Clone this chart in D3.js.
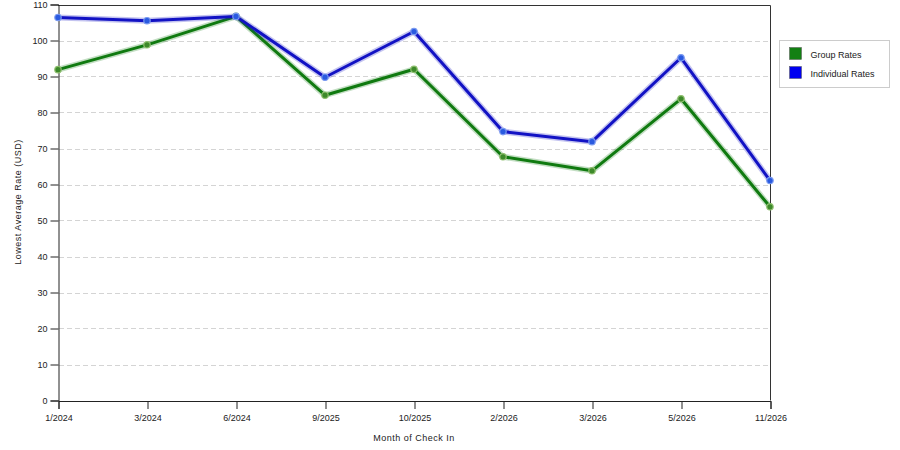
<!DOCTYPE html>
<html>
<head>
<meta charset="utf-8">
<script src="https://cdn.jsdelivr.net/npm/d3@7"></script>
<style>
body { margin: 0; background: #fff; }
text { font-family: "Liberation Sans", Arial, sans-serif; font-size: 9px; fill: #222; }
</style>
</head>
<body>
<script>
var months = ["1/2024", "3/2024", "6/2024", "9/2025", "10/2025", "2/2026", "3/2026", "5/2026", "11/2026"];
var groupRates = [91.9, 98.8, 106.7, 84.8, 92.0, 67.7, 63.8, 83.8, 53.8];
var individualRates = [106.4, 105.5, 106.7, 89.8, 102.5, 74.7, 71.9, 95.2, 61.1];
var yTicks = [0, 10, 20, 30, 40, 50, 60, 70, 80, 90, 100, 110];
var seriesNames = ["Group Rates", "Individual Rates"];
var seriesColors = ["#107a10", "#1212c4"];
var legendColors = ["#138013", "#0000f0"];

var w = 900, h = 450;
var plotLeft = 58, plotRight = 770, plotTop = 4.5, plotBottom = 400.5;

var svg = d3.select("body").append("svg")
    .attr("width", w)
    .attr("height", h);

var x = d3.scalePoint()
    .domain(months)
    .range([plotLeft, plotRight]);

var y = d3.scaleLinear()
    .domain([0, 110])
    .range([plotBottom, plotTop]);

// dashed grid
svg.append("g")
    .selectAll("line")
    .data(yTicks.filter(function(d) { return d > 0 && d < 110; }))
    .enter()
    .append("line")
    .attr("x1", plotLeft + 1)
    .attr("x2", plotRight - 1)
    .attr("y1", function(d) { return Math.round(y(d)) + 0.5; })
    .attr("y2", function(d) { return Math.round(y(d)) + 0.5; })
    .attr("stroke", "#d4d4d4")
    .attr("stroke-dasharray", "5,3");

// frame top and right
svg.append("path")
    .attr("d", "M" + plotLeft + "," + (Math.round(plotTop) + 0.5) + "H" + (plotRight + 0.5) + "V" + plotBottom)
    .attr("fill", "none")
    .attr("stroke", "#333");

svg.append("g")
    .attr("transform", "translate(0.5,0)")
    .call(d3.axisLeft(y).tickValues(yTicks).tickSize(8).tickPadding(3).tickFormat(d3.format("d")))
    .attr("transform", "translate(" + (plotLeft + 0.5) + ",0)");

svg.append("g")
    .attr("transform", "translate(0.5," + Math.round(plotBottom) + ")")
    .call(d3.axisBottom(x).tickSize(8).tickPadding(6));

svg.selectAll(".domain").attr("stroke", "#222");
svg.selectAll(".tick line").attr("stroke", "#222");
svg.selectAll(".tick text").style("font-family", "Liberation Sans, Arial, sans-serif").style("font-size", "9px").attr("fill", "#222");

svg.append("text")
    .attr("x", 414)
    .attr("y", 441)
    .attr("text-anchor", "middle")
    .style("letter-spacing", "0.5px")
    .text("Month of Check In");

svg.append("text")
    .attr("transform", "translate(21,202) rotate(-90)")
    .attr("text-anchor", "middle")
    .style("letter-spacing", "0.5px")
    .text("Lowest Average Rate (USD)");

var line = d3.line()
    .x(function(d, i) { return x(months[i]); })
    .y(function(d) { return y(d); });

[groupRates, individualRates].forEach(function(vals, k) {
    svg.append("path")
        .datum(vals)
        .attr("d", line)
        .attr("fill", "none")
        .attr("stroke", seriesColors[k])
        .attr("stroke-opacity", 0.25)
        .attr("stroke-width", 6)
        .attr("stroke-linejoin", "round");
    svg.append("path")
        .datum(vals)
        .attr("d", line)
        .attr("fill", "none")
        .attr("stroke", seriesColors[k])
        .attr("stroke-width", 3)
        .attr("stroke-linejoin", "round");
    svg.append("g")
        .selectAll("circle")
        .data(vals)
        .enter()
        .append("circle")
        .attr("cx", function(d, i) { return x(months[i]); })
        .attr("cy", function(d) { return y(d); })
        .attr("r", 3.2)
        .attr("fill", k == 0 ? "#3d8a2a" : "#2a5ae0")
        .attr("stroke", k == 0 ? "#8fbf6f" : "#7a9af0")
        .attr("stroke-width", 1.2);
});

// legend
var lg = svg.append("g").attr("transform", "translate(779.5,40.5)");
lg.append("rect")
    .attr("width", 110)
    .attr("height", 47)
    .attr("fill", "#fff")
    .attr("stroke", "#ccc");
seriesNames.forEach(function(name, i) {
    lg.append("rect")
        .attr("x", 10)
        .attr("y", 7 + i * 19)
        .attr("width", 12)
        .attr("height", 12)
        .attr("fill", legendColors[i])
        .attr("stroke", "#555")
        .attr("stroke-width", 0.5);
    lg.append("text")
        .attr("x", 31)
        .attr("y", 17 + i * 19)
        .text(name);
});
</script>
</body>
</html>
